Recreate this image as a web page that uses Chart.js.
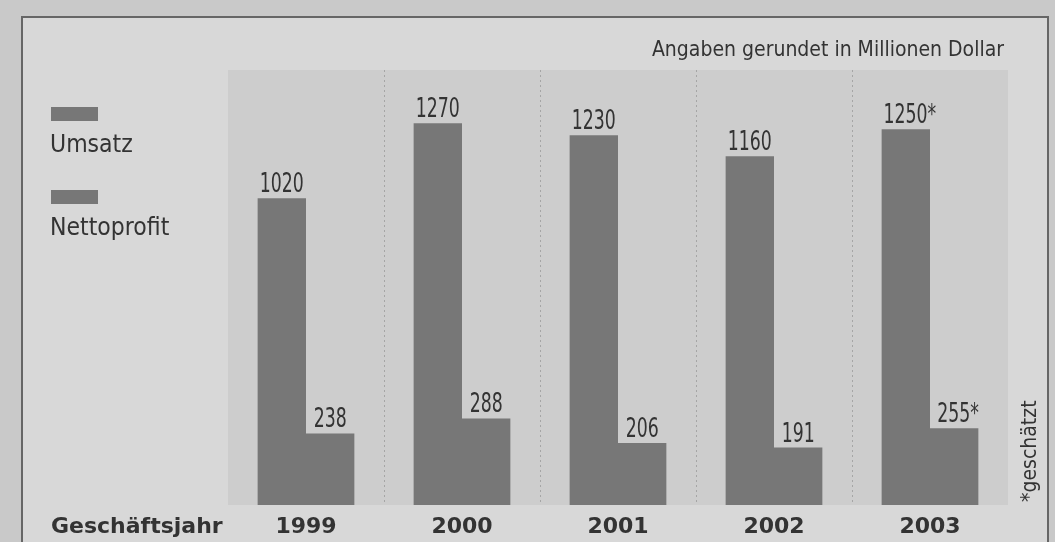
<!DOCTYPE html>
<html>
<head>
<meta charset="utf-8">
<script src="https://cdn.jsdelivr.net/npm/chart.js@4"></script>
<style>
  html, body { margin: 0; padding: 0; background: #cdcdcd; }
  #wrap { width: 1055px; height: 542px; }
</style>
</head>
<body>
<div id="wrap"><canvas id="c" width="1055" height="542"></canvas></div>
<script>
// ---- data ----
const years = ['1999', '2000', '2001', '2002', '2003'];
const umsatz = [1020, 1270, 1230, 1160, 1250];
const nettoprofit = [238, 288, 206, 191, 255];
const umsatzLabels = ['1020', '1270', '1230', '1160', '1250*'];
const profitLabels = ['238', '288', '206', '191', '255*'];
const seriesNames = ['Umsatz', 'Nettoprofit'];
const unitNote = 'Angaben gerundet in Millionen Dollar';
const axisCaption = 'Geschäftsjahr';
const footnote = '*geschätzt';

const BAR = '#777777';
const TEXT = '#333333';
const COND = '"DejaVu Sans Condensed", "DejaVu Sans", sans-serif';

// draw horizontally compressed text
function condText(ctx, txt, x, y, sx, align) {
  ctx.save();
  ctx.translate(x, y);
  ctx.scale(sx, 1);
  ctx.textAlign = align;
  ctx.fillText(txt, 0, 0);
  ctx.restore();
}

const decor = {
  id: 'decor',
  beforeDraw(chart) {
    const ctx = chart.ctx, a = chart.chartArea;
    ctx.save();
    ctx.fillStyle = '#c9c9c9';
    ctx.fillRect(0, 0, chart.width, chart.height);
    ctx.fillStyle = '#d8d8d8';
    ctx.fillRect(22, 17, 1026, 540);
    ctx.strokeStyle = '#666666';
    ctx.lineWidth = 2;
    ctx.strokeRect(22, 17, 1026, 540);
    ctx.fillStyle = '#cdcdcd';
    ctx.fillRect(a.left, a.top, a.right - a.left, a.bottom - a.top);
    const xs = chart.scales.x;
    ctx.strokeStyle = '#a5a5a5';
    ctx.lineWidth = 1;
    ctx.setLineDash([2, 3]);
    for (let i = 1; i < years.length; i++) {
      const x = Math.round((xs.getPixelForTick(i - 1) + xs.getPixelForTick(i)) / 2) + 0.5;
      ctx.beginPath();
      ctx.moveTo(x, a.top);
      ctx.lineTo(x, a.bottom);
      ctx.stroke();
    }
    ctx.restore();
  },
  afterDatasetsDraw(chart) {
    const ctx = chart.ctx;
    ctx.save();
    ctx.fillStyle = TEXT;
    // value labels
    ctx.font = '26px ' + COND;
    ctx.textBaseline = 'alphabetic';
    const lbls = [umsatzLabels, profitLabels];
    chart.data.datasets.forEach((ds, di) => {
      chart.getDatasetMeta(di).data.forEach((bar, i) => {
        const t = lbls[di][i];
        condText(ctx, t, bar.x + (t.endsWith('*') ? 4 : 0), bar.y - 6, 0.74, 'center');
      });
    });
    // legend (swatch above text)
    const legY = [107, 190];
    chart.data.datasets.forEach((ds, di) => {
      ctx.fillStyle = ds.backgroundColor;
      ctx.fillRect(51, legY[di], 47, 14);
      ctx.fillStyle = TEXT;
      ctx.font = '25px ' + COND;
      condText(ctx, ds.label, 50, legY[di] + 45, 0.98, 'left');
    });
    // unit note
    ctx.font = '21px ' + COND;
    condText(ctx, unitNote, 1004, 56, 1.0, 'right');
    // axis caption
    ctx.font = 'bold 22px "DejaVu Sans", sans-serif';
    ctx.textAlign = 'left';
    ctx.fillText(axisCaption, 51, 533);
    // footnote (rotated)
    ctx.translate(1031, 502);
    ctx.rotate(-Math.PI / 2);
    ctx.font = '21px ' + COND;
    ctx.textBaseline = 'middle';
    condText(ctx, footnote, 0, 0, 1.0, 'left');
    ctx.restore();
  }
};

new Chart(document.getElementById('c'), {
  type: 'bar',
  data: {
    labels: years,
    datasets: [
      { label: seriesNames[0], data: umsatz, backgroundColor: BAR, borderWidth: 0 },
      { label: seriesNames[1], data: nettoprofit, backgroundColor: BAR, borderWidth: 0 }
    ]
  },
  options: {
    responsive: false,
    animation: false,
    devicePixelRatio: 1,
    layout: { padding: { left: 228, top: 70, right: 47, bottom: 0 } },
    plugins: { legend: { display: false }, tooltip: { enabled: false } },
    datasets: { bar: { categoryPercentage: 0.62, barPercentage: 1.0 } },
    scales: {
      x: {
        grid: { display: false, drawTicks: false },
        border: { display: false },
        ticks: {
          color: TEXT,
          font: { family: '"DejaVu Sans", sans-serif', weight: 'bold', size: 22 },
          padding: 9
        },
        afterFit(scale) { scale.height = 37; }
      },
      y: {
        display: false,
        min: 0,
        max: 1447
      }
    }
  },
  plugins: [decor]
});
</script>
</body>
</html>
